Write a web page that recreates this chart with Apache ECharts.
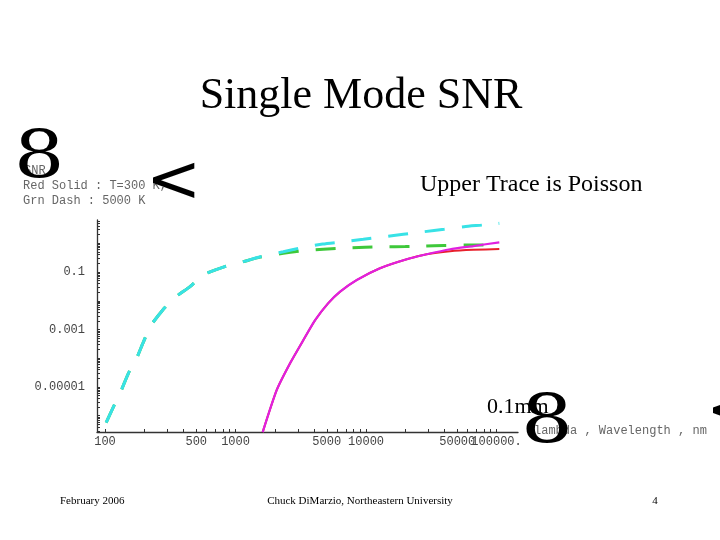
<!DOCTYPE html>
<html><head><meta charset="utf-8">
<script src="https://cdn.jsdelivr.net/npm/echarts@6/dist/echarts.min.js"></script>
<style>html,body{margin:0;padding:0;background:#fff}#c{width:720px;height:540px}</style>
</head><body><div id="c"></div>
<script>
// Wavelength (nm) and SNR
const wlPoisson5000 = [102, 116, 132, 151, 173, 196, 224, 277, 338, 448, 566, 817, 1148, 1542, 2323, 3311, 4656, 6699, 9528, 13740, 19320, 27800, 39630, 56360, 79250, 105000];
const snrPoisson5000 = [5.75e-7, 2.04e-6, 6.9e-6, 3.0e-5, 9.1e-5, 3.5e-4, 1.35e-3, 4.8e-3, 0.0123, 0.031, 0.079, 0.151, 0.229, 0.339, 0.508, 0.723, 0.942, 1.13, 1.37, 1.69, 2.05, 2.52, 3.05, 3.77, 4.32, 4.94];

const wl5000 = [102, 116, 132, 151, 173, 196, 224, 277, 338, 448, 566, 817, 1148, 1542, 2323, 3311, 4700, 6324, 9817, 13960, 20000, 27800, 39630, 56360, 79250, 105000];
const snr5000 = [5.75e-7, 2.04e-6, 6.9e-6, 3.0e-5, 9.1e-5, 3.5e-4, 1.35e-3, 4.8e-3, 0.0123, 0.031, 0.079, 0.151, 0.229, 0.33, 0.447, 0.551, 0.617, 0.667, 0.723, 0.759, 0.765, 0.80, 0.84, 0.865, 0.87, 0.875];

const wlPoisson300 = [1615, 2070, 2618, 3311, 4070, 5117, 6324, 8492, 12790, 20510, 29170, 44060, 66370, 105000];
const snrPoisson300 = [2.7e-7, 7.9e-6, 6.7e-5, 4.3e-4, 2.1e-3, 8.1e-3, 0.0207, 0.0527, 0.135, 0.277, 0.413, 0.617, 0.80, 1.08];

const wl300 = [1615, 2070, 2618, 3311, 4070, 5117, 6324, 8492, 12790, 20510, 29170, 44060, 66370, 105000];
const snr300 = [2.7e-7, 7.9e-6, 6.7e-5, 4.3e-4, 2.1e-3, 8.1e-3, 0.0207, 0.0527, 0.135, 0.277, 0.413, 0.525, 0.59, 0.63];

const xTickValues = [100, 500, 1000, 5000, 10000, 50000, 100000];
const xTickText = ['100', '500', '1000', '5000', '10000', '50000', '100000.'];
const yTickValues = [0.1, 0.001, 0.00001];
const yTickText = ['0.1', '0.001', '0.00001'];

const xRange = [86.8, 146000];
const yRange = [2.72e-7, 6.44];

const L = Math.log10;
function minorTicks(k0, k1, lo, hi) {
  const out = [];
  for (let k = k0; k <= k1; k++) for (let m = 1; m <= 9; m++) {
    const v = L(m) + k;
    if (v >= lo && v <= hi) out.push(v);
  }
  return out;
}
function fmt(vals, texts) {
  return function (v) {
    for (let i = 0; i < vals.length; i++) if (Math.abs(L(vals[i]) - v) < 1e-6) return texts[i];
    return '';
  };
}
function pairs(wl, s) { return wl.map((w, i) => [L(w), L(s[i])]); }

const xMin = L(xRange[0]), xMax = L(xRange[1]);
const yMin = L(yRange[0]), yMax = L(yRange[1]);

const chart = echarts.init(document.getElementById('c'), null, {renderer: 'canvas'});
const mono = '"Liberation Mono"';
const serif = '"Liberation Serif"';
const labelGray = '#444';
const textGray = '#666';
const nX = xTickValues.length;
const labelStyle = {color: labelGray, fontFamily: mono, fontSize: 12, margin: 4, hideOverlap: false};

chart.setOption({
  animation: false,
  backgroundColor: '#fff',
  grid: {left: 97, top: 220, width: 421, height: 212, containLabel: false},
  xAxis: [{
    type: 'value', min: xMin, max: xMax,
    splitLine: {show: false},
    axisLine: {onZero: false, lineStyle: {color: '#333', width: 1.3}},
    axisTick: {show: true, inside: true, length: 3, customValues: minorTicks(2, 5, xMin, xMax), lineStyle: {color: '#333'}},
    axisLabel: Object.assign({customValues: xTickValues.slice(0, nX - 1).map(L), formatter: fmt(xTickValues, xTickText)}, labelStyle)
  }, {
    type: 'value', min: xMin, max: xMax, position: 'bottom',
    splitLine: {show: false},
    axisLine: {show: false, onZero: false},
    axisTick: {show: false},
    axisLabel: Object.assign({customValues: xTickValues.slice(nX - 1).map(L), formatter: fmt(xTickValues, xTickText)}, labelStyle)
  }],
  yAxis: {
    type: 'value', min: yMin, max: yMax,
    splitLine: {show: false},
    axisLine: {onZero: false, lineStyle: {color: '#333', width: 1.3}},
    axisTick: {show: true, inside: true, length: 3, customValues: minorTicks(-7, 0, yMin, yMax), lineStyle: {color: '#333'}},
    axisLabel: {customValues: yTickValues.map(L), formatter: fmt(yTickValues, yTickText), color: labelGray, fontFamily: mono, fontSize: 12, margin: 12}
  },
  series: [
    {type: 'line', name: 'Grn 5000K', data: pairs(wl5000, snr5000), showSymbol: false, smooth: 0.2, z: 2,
     lineStyle: {color: '#3ec83a', width: 3, type: [20, 17]}},
    {type: 'line', name: 'Poisson 5000K', data: pairs(wlPoisson5000, snrPoisson5000), showSymbol: false, smooth: 0.2, z: 3,
     lineStyle: {color: '#38e2e6', width: 3, type: [20, 17]}},
    {type: 'line', name: 'Red 300K', data: pairs(wl300, snr300), showSymbol: false, smooth: 0.2, z: 4,
     lineStyle: {color: '#e8202c', width: 2}},
    {type: 'line', name: 'Poisson 300K', data: pairs(wlPoisson300, snrPoisson300), showSymbol: false, smooth: 0.2, z: 5,
     lineStyle: {color: '#e020e0', width: 2.2}}
  ],
  graphic: [
    {type: 'text', x: 361, y: 96, z: 50, style: {text: 'Single Mode SNR', font: '44px ' + serif, fill: '#000', textAlign: 'center', textVerticalAlign: 'middle'}},
    {type: 'text', x: 420, y: 185, z: 50, style: {text: 'Upper Trace is Poisson', font: '24px ' + serif, fill: '#000', textAlign: 'left', textVerticalAlign: 'middle'}},
    {type: 'text', x: 487, y: 407, z: 50, style: {text: '0.1mm', font: '22px ' + serif, fill: '#000', textAlign: 'left', textVerticalAlign: 'middle'}},
    {type: 'text', x: 24, y: 171, z: 50, style: {text: 'SNR', font: '12px ' + mono, fill: textGray, textAlign: 'left', textVerticalAlign: 'middle'}},
    {type: 'text', x: 23, y: 186, z: 50, style: {text: 'Red Solid : T=300 K,', font: '12px ' + mono, fill: textGray, textAlign: 'left', textVerticalAlign: 'middle'}},
    {type: 'text', x: 23, y: 201, z: 50, style: {text: 'Grn Dash : 5000 K', font: '12px ' + mono, fill: textGray, textAlign: 'left', textVerticalAlign: 'middle'}},
    {type: 'text', x: 534, y: 431, z: 50, style: {text: 'lambda , Wavelength , nm', font: '12px ' + mono, fill: textGray, textAlign: 'left', textVerticalAlign: 'middle'}},
    {type: 'text', x: 14, y: 160, z: 60, scaleX: 1.22, style: {text: '8', font: '65px "DejaVu Serif"', fill: '#000', textAlign: 'left', textVerticalAlign: 'middle'}},
    {type: 'text', x: 521, y: 425, z: 60, scaleX: 1.22, style: {text: '8', font: '67px "DejaVu Serif"', fill: '#000', textAlign: 'left', textVerticalAlign: 'middle'}},
    {type: 'text', x: 146, y: 184, z: 60, style: {text: '<', font: '66px "DejaVu Sans"', fill: '#000', textAlign: 'left', textVerticalAlign: 'middle'}},
    {type: 'text', x: 706, y: 414, z: 60, style: {text: '<', font: '66px "DejaVu Sans"', fill: '#000', textAlign: 'left', textVerticalAlign: 'middle'}},
    {type: 'text', x: 60, y: 501, z: 50, style: {text: 'February 2006', font: '11px ' + serif, fill: '#000', textAlign: 'left', textVerticalAlign: 'middle'}},
    {type: 'text', x: 360, y: 501, z: 50, style: {text: 'Chuck DiMarzio, Northeastern University', font: '11px ' + serif, fill: '#000', textAlign: 'center', textVerticalAlign: 'middle'}},
    {type: 'text', x: 655, y: 501, z: 50, style: {text: '4', font: '11px ' + serif, fill: '#000', textAlign: 'center', textVerticalAlign: 'middle'}}
  ]
});
</script>
</body></html>
